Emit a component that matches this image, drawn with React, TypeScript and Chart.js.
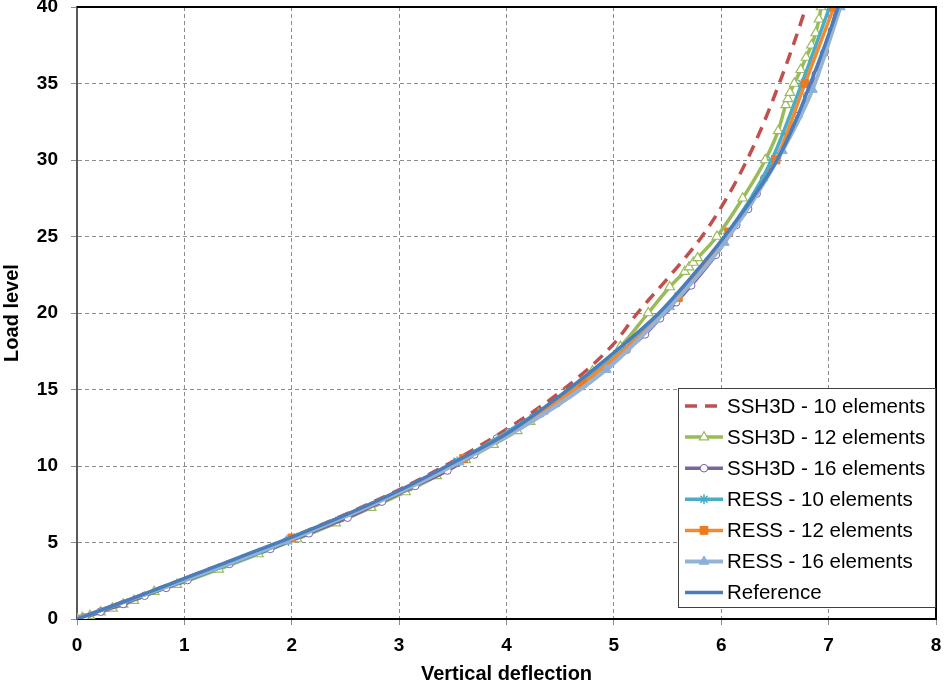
import React, { useEffect, useRef } from 'react';
import { Chart, registerables } from 'chart.js';
import { drawPoint } from 'chart.js/helpers';

Chart.register(...registerables);

const X_TICKS = [0, 1, 2, 3, 4, 5, 6, 7, 8];
const Y_TICKS = [0, 5, 10, 15, 20, 25, 30, 35, 40];

const SERIES_LABELS = [
  'SSH3D - 10 elements',
  'SSH3D - 12 elements',
  'SSH3D - 16 elements',
  'RESS - 10 elements',
  'RESS - 12 elements',
  'RESS - 16 elements',
  'Reference',
];

// SSH3D - 10 elements
const ssh10X = [0, 0.5, 1.0, 2.0, 3.0, 3.5, 4.0, 4.53, 5.0, 5.22, 5.53, 5.82, 6.05, 6.24, 6.4, 6.54, 6.67, 6.79];
const ssh10Y = [0, 1.3, 2.65, 5.35, 8.45, 10.3, 12.4, 15.0, 18.0, 20.0, 22.5, 25.0, 27.5, 30.0, 32.5, 35.0, 37.5, 40.0];

// SSH3D - 12 elements
const ssh12X = [0, 0.05, 0.12, 0.22, 0.33, 0.43, 0.53, 0.72, 0.93, 1.32, 1.69, 2.05, 2.41, 2.74, 3.06, 3.35, 3.62, 3.88, 4.1, 4.22, 4.3, 4.55, 4.8, 5.06, 5.32, 5.52, 5.66, 5.7, 5.74, 5.78, 5.96, 6.2, 6.41, 6.53, 6.6, 6.62, 6.64, 6.68, 6.74, 6.79, 6.84, 6.88, 6.91, 6.93];
const ssh12Y = [0, 0.08, 0.22, 0.45, 0.7, 0.95, 1.2, 1.78, 2.25, 3.25, 4.25, 5.23, 6.27, 7.28, 8.3, 9.35, 10.4, 11.4, 12.3, 12.9, 13.4, 14.7, 16.2, 17.8, 20.0, 21.7, 22.7, 23.0, 23.3, 23.6, 25.0, 27.5, 30.0, 31.9, 33.6, 34.0, 34.4, 35.0, 35.9, 36.7, 37.5, 38.3, 39.2, 40.0];

// SSH3D - 16 elements
const ssh16X = [0, 0.07, 0.22, 0.43, 0.63, 0.83, 1.03, 1.42, 1.8, 2.16, 2.52, 2.84, 3.15, 3.45, 3.7, 3.91, 4.02, 4.14, 4.25, 4.36, 4.47, 4.56, 4.76, 4.85, 4.95, 5.12, 5.29, 5.43, 5.58, 5.72, 5.95, 6.14, 6.25, 6.33, 6.4, 6.52, 6.62, 6.72, 6.8, 6.88, 6.96, 7.08];
const ssh16Y = [0, 0.1, 0.48, 0.98, 1.52, 2.03, 2.55, 3.6, 4.58, 5.6, 6.62, 7.67, 8.7, 9.7, 10.75, 11.8, 12.2, 12.7, 13.2, 13.6, 14.1, 14.6, 15.6, 16.1, 16.6, 17.6, 18.6, 19.65, 20.7, 21.8, 23.8, 25.75, 26.8, 27.8, 28.8, 30.2, 31.6, 32.9, 34.2, 35.6, 37.0, 40.0];

// RESS - 10 elements
const ress10X = [0, 1.97, 3.54, 4.95, 5.6, 6.06, 6.47, 6.75, 7.01];
const ress10Y = [0, 5.1, 10.3, 16.8, 21.1, 25.2, 30.0, 35.0, 40.0];

// RESS - 12 elements
const ress12X = [0, 2.0, 3.6, 4.71, 5.6, 6.07, 6.51, 6.78, 7.05];
const ress12Y = [0, 5.3, 10.5, 15.4, 21.0, 25.3, 30.0, 35.0, 40.0];

// RESS - 16 elements
const ress16X = [0, 1.95, 3.56, 4.93, 5.52, 6.03, 6.57, 6.85, 7.11];
const ress16Y = [0, 5.1, 10.25, 16.3, 20.4, 24.6, 30.6, 34.6, 40.0];

// Reference
const refX = [0, 0.25, 0.5, 1.0, 1.5, 2.0, 2.5, 3.0, 3.5, 4.0, 4.5, 5.0, 5.42, 5.74, 6.03, 6.29, 6.52, 6.69, 6.83, 6.965, 7.09];
const refY = [0, 0.65, 1.3, 2.65, 4.0, 5.35, 6.8, 8.4, 10.2, 12.1, 14.6, 17.4, 20.0, 22.5, 25.0, 27.5, 30.0, 32.5, 35.0, 37.5, 40.0];

const FONT = '"Liberation Sans", Arial, Helvetica, sans-serif';

const pts = (xs: number[], ys: number[]) => xs.map((x, i) => ({ x, y: ys[i] }));

const legendPlugin = {
  id: 'boxLegend',
  afterDraw(chart: any) {
    const ctx = chart.ctx as CanvasRenderingContext2D;
    const { right } = chart.chartArea;
    const L = 678, T = 388, R = right, B = 608;
    ctx.save();
    ctx.fillStyle = '#ffffff';
    ctx.fillRect(L, T, R - L, B - T);
    ctx.strokeStyle = '#404040';
    ctx.lineWidth = 1;
    ctx.strokeRect(L + 0.5, T + 0.5, R - L - 1, B - T - 1);
    chart.data.datasets.forEach((ds: any, i: number) => {
      const y = 406 + i * 31.1;
      ctx.save();
      ctx.strokeStyle = ds.borderColor;
      ctx.lineWidth = ds.borderWidth;
      ctx.setLineDash(ds.borderDash || []);
      ctx.beginPath();
      ctx.moveTo(685, y);
      ctx.lineTo(723, y);
      ctx.stroke();
      ctx.setLineDash([]);
      if (ds.pointRadius > 0) {
        ctx.fillStyle = ds.pointBackgroundColor;
        ctx.strokeStyle = ds.pointBorderColor;
        ctx.lineWidth = ds.pointBorderWidth;
        drawPoint(ctx, { pointStyle: ds.pointStyle, radius: ds.pointRadius, borderWidth: ds.pointBorderWidth, rotation: 0 } as any, 704, y);
      }
      ctx.fillStyle = '#000000';
      ctx.font = `20.5px ${FONT}`;
      ctx.textBaseline = 'middle';
      ctx.textAlign = 'left';
      ctx.fillText(ds.label, 727, y + 1);
      ctx.restore();
    });
    ctx.restore();
  },
};

const framePlugin = {
  id: 'frame',
  afterDatasetsDraw(chart: any) {
    const ctx = chart.ctx as CanvasRenderingContext2D;
    const { left, top, right, bottom } = chart.chartArea;
    ctx.save();
    ctx.strokeStyle = '#000000';
    ctx.lineWidth = 2;
    ctx.beginPath();
    ctx.moveTo(left, top);
    ctx.lineTo(right, top);
    ctx.lineTo(right, bottom);
    ctx.stroke();
    ctx.restore();
  },
};

export default function App() {
  const ref = useRef<HTMLCanvasElement | null>(null);

  useEffect(() => {
    if (!ref.current) return;
    const base = { showLine: true, cubicInterpolationMode: 'monotone' as const, fill: false };
    const chart = new Chart(ref.current, {
      type: 'scatter',
      data: {
        datasets: [
          {
            ...base, label: SERIES_LABELS[0], data: pts(ssh10X, ssh10Y), order: 6,
            borderColor: '#C0504D', borderWidth: 3.5, borderDash: [12, 8],
            pointRadius: 0, pointHoverRadius: 0,
          },
          {
            ...base, label: SERIES_LABELS[1], data: pts(ssh12X, ssh12Y), order: 5,
            borderColor: '#9BBB59', borderWidth: 3.5,
            pointStyle: 'triangle', pointRadius: 5.5, pointBackgroundColor: '#ffffff', pointBorderColor: '#9BBB59', pointBorderWidth: 1.2,
          },
          {
            ...base, label: SERIES_LABELS[2], data: pts(ssh16X, ssh16Y), order: 4,
            borderColor: '#7E62A1', borderWidth: 3.5,
            pointStyle: 'circle', pointRadius: 3.8, pointBackgroundColor: '#ffffff', pointBorderColor: '#7E62A1', pointBorderWidth: 1,
          },
          {
            ...base, label: SERIES_LABELS[3], data: pts(ress10X, ress10Y), order: 3,
            borderColor: '#4BACC6', borderWidth: 3.5,
            pointStyle: 'star', pointRadius: 5, pointBackgroundColor: '#4BACC6', pointBorderColor: '#4BACC6', pointBorderWidth: 1.5,
          },
          {
            ...base, label: SERIES_LABELS[4], data: pts(ress12X, ress12Y), order: 2,
            borderColor: '#F28A30', borderWidth: 3.5,
            pointStyle: 'rect', pointRadius: 5.5, pointBackgroundColor: '#EE7A1E', pointBorderColor: '#EE7A1E', pointBorderWidth: 1,
          },
          {
            ...base, label: SERIES_LABELS[5], data: pts(ress16X, ress16Y), order: 1,
            borderColor: '#95B3D7', borderWidth: 4,
            pointStyle: 'triangle', pointRadius: 5.5, pointBackgroundColor: '#8EAEDA', pointBorderColor: '#8EAEDA', pointBorderWidth: 1,
          },
          {
            ...base, label: SERIES_LABELS[6], data: pts(refX, refY), order: 0,
            borderColor: '#4A7DBA', borderWidth: 3.5,
            pointRadius: 0, pointHoverRadius: 0,
          },
        ],
      },
      options: {
        animation: false,
        responsive: false,
        devicePixelRatio: 1,
        layout: { padding: { left: 0, top: 7, right: 8, bottom: 0 } },
        plugins: { legend: { display: false }, tooltip: { enabled: false } },
        scales: {
          x: {
            type: 'linear',
            min: 0,
            max: 8,
            afterBuildTicks: (s: any) => { s.ticks = X_TICKS.map((v) => ({ value: v })); },
            afterFit: (s: any) => { s.height = 67; s.paddingLeft = 0; s.paddingRight = 0; },
            grid: { color: '#8C8C8C', lineWidth: 1, tickLength: 6, tickColor: '#8C8C8C', tickBorderDash: [] } as any,
            border: { dash: [4, 3], color: '#000000', width: 2 },
            ticks: { color: '#000000', font: { family: FONT, size: 19, weight: 'bold' }, padding: 9, maxRotation: 0, autoSkip: false },
            title: { display: true, text: 'Vertical deflection', color: '#000000', font: { family: FONT, size: 20, weight: 'bold' }, padding: { top: 0, bottom: 0 } },
          },
          y: {
            type: 'linear',
            min: 0,
            max: 40,
            afterBuildTicks: (s: any) => { s.ticks = Y_TICKS.map((v) => ({ value: v })); },
            afterFit: (s: any) => { s.width = 77; s.paddingTop = 0; s.paddingBottom = 0; },
            grid: { color: '#8C8C8C', lineWidth: 1, tickLength: 6, tickColor: '#8C8C8C', tickBorderDash: [] } as any,
            border: { dash: [4, 3], color: '#595959', width: 2 },
            ticks: { color: '#000000', font: { family: FONT, size: 19, weight: 'bold' }, padding: 13, autoSkip: false },
            title: { display: true, text: 'Load level', color: '#000000', font: { family: FONT, size: 20, weight: 'bold' }, padding: { top: 0, bottom: 0 } },
          },
        },
      } as any,
      plugins: [framePlugin, legendPlugin],
    });
    return () => chart.destroy();
  }, []);

  return (
    <div style={{ position: 'fixed', left: 0, top: 0, width: 944, height: 686, background: '#ffffff' }}>
      <canvas ref={ref} width={944} height={686} style={{ width: 944, height: 686, display: 'block' }} />
    </div>
  );
}
